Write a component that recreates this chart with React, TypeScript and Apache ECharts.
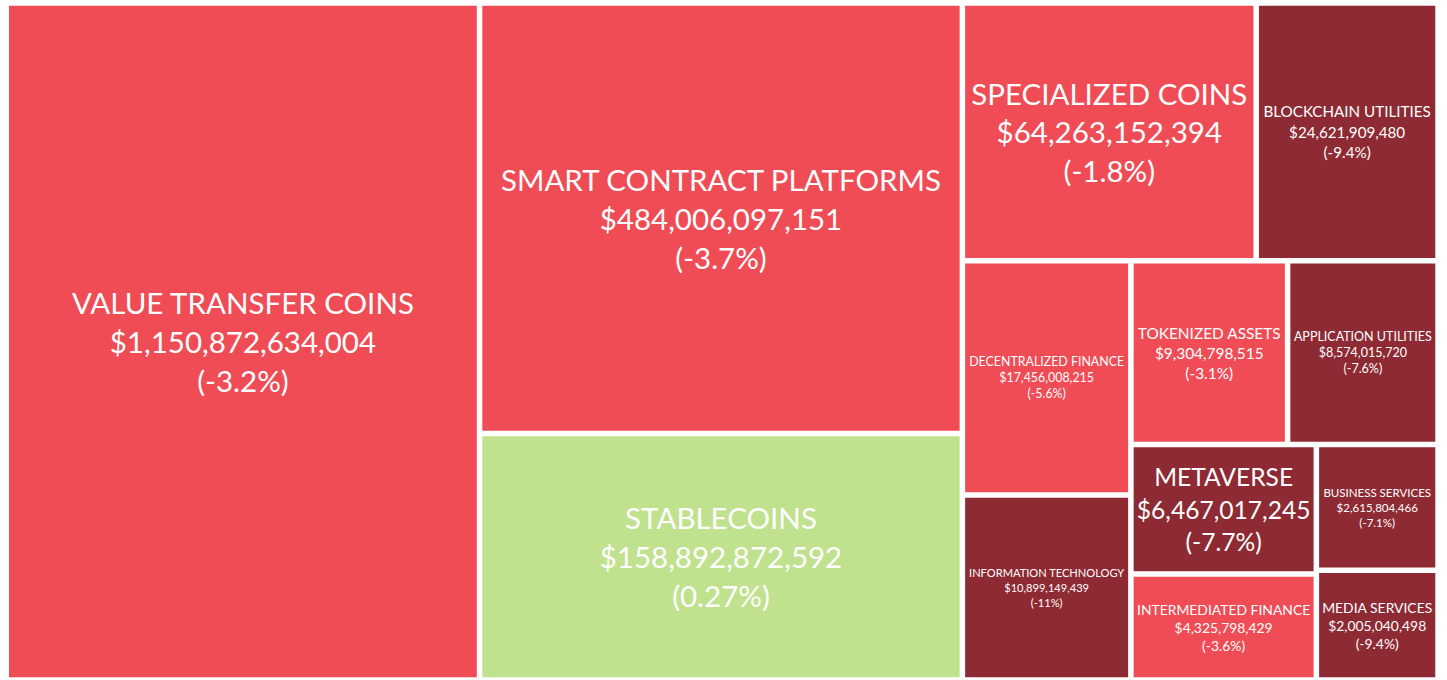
import React, { useEffect, useRef } from "react";
import * as echarts from "echarts";

// Sector names, market caps (USD) and 24h change (%)
const categories = [
  "VALUE TRANSFER COINS",
  "SMART CONTRACT PLATFORMS",
  "STABLECOINS",
  "SPECIALIZED COINS",
  "BLOCKCHAIN UTILITIES",
  "DECENTRALIZED FINANCE",
  "INFORMATION TECHNOLOGY",
  "TOKENIZED ASSETS",
  "APPLICATION UTILITIES",
  "METAVERSE",
  "INTERMEDIATED FINANCE",
  "BUSINESS SERVICES",
  "MEDIA SERVICES",
];

const marketCaps = [
  1150872634004, 484006097151, 158892872592, 64263152394, 24621909480,
  17456008215, 10899149439, 9304798515, 8574015720, 6467017245, 4325798429,
  2615804466, 2005040498,
];

const changes = [-3.2, -3.7, 0.27, -1.8, -9.4, -5.6, -11, -3.1, -7.6, -7.7, -3.6, -7.1, -9.4];

// label typography per tile (style, kept apart from data)
const labelStyles: Record<string, { fontSize: number; lineHeight: number }> = {
  "VALUE TRANSFER COINS": { fontSize: 29.5, lineHeight: 39 },
  "SMART CONTRACT PLATFORMS": { fontSize: 29.5, lineHeight: 39 },
  STABLECOINS: { fontSize: 29.5, lineHeight: 39 },
  "SPECIALIZED COINS": { fontSize: 29.5, lineHeight: 38.5 },
  "BLOCKCHAIN UTILITIES": { fontSize: 15.2, lineHeight: 20.5 },
  "DECENTRALIZED FINANCE": { fontSize: 12.4, lineHeight: 16 },
  "INFORMATION TECHNOLOGY": { fontSize: 11.1, lineHeight: 15 },
  "TOKENIZED ASSETS": { fontSize: 15.4, lineHeight: 20 },
  "APPLICATION UTILITIES": { fontSize: 12.5, lineHeight: 16 },
  METAVERSE: { fontSize: 24.6, lineHeight: 32.5 },
  "INTERMEDIATED FINANCE": { fontSize: 13.9, lineHeight: 18 },
  "BUSINESS SERVICES": { fontSize: 11.5, lineHeight: 15 },
  "MEDIA SERVICES": { fontSize: 13.9, lineHeight: 18 },
};

const RED = "#f04c56";
const DARK = "#8e2a33";
const GREEN = "#c0e28e";

function colorFor(change: number): string {
  if (change > 0) return GREEN;
  if (change > -6) return RED;
  return DARK;
}

export default function App() {
  const ref = useRef<HTMLDivElement>(null);

  useEffect(() => {
    if (!ref.current) return;
    const chart = echarts.init(ref.current, undefined, { renderer: "svg" });

    const data = categories.map((name, i) => ({
      name,
      value: Math.sqrt(marketCaps[i]),
      cap: marketCaps[i],
      change: changes[i],
      itemStyle: { color: colorFor(changes[i]) },
      label: { ...labelStyles[name] },
    }));

    chart.setOption({
      animation: false,
      series: [
        {
          type: "treemap",
          left: 9,
          top: 5.7,
          width: 1426.3,
          height: 671.6,
          squareRatio: 1,
          roam: false,
          nodeClick: false,
          breadcrumb: { show: false },
          levels: [
            { itemStyle: { gapWidth: 5.5, borderWidth: 0, borderColor: "#fff" } },
          ],
          itemStyle: { borderWidth: 0 },
          label: {
            show: true,
            position: "inside",
            align: "center",
            verticalAlign: "middle",
            color: "#ffffff",
            fontFamily: "Lato",
            overflow: "none",
            formatter: (p: any) =>
              `${p.name}\n$${p.data.cap.toLocaleString("en-US")}\n(${p.data.change}%)`,
          },
          emphasis: { disabled: true },
          data,
        },
      ],
    });

    return () => chart.dispose();
  }, []);

  return (
    <div
      ref={ref}
      style={{ position: "absolute", left: 0, top: 0, width: 1447, height: 680 }}
    />
  );
}
